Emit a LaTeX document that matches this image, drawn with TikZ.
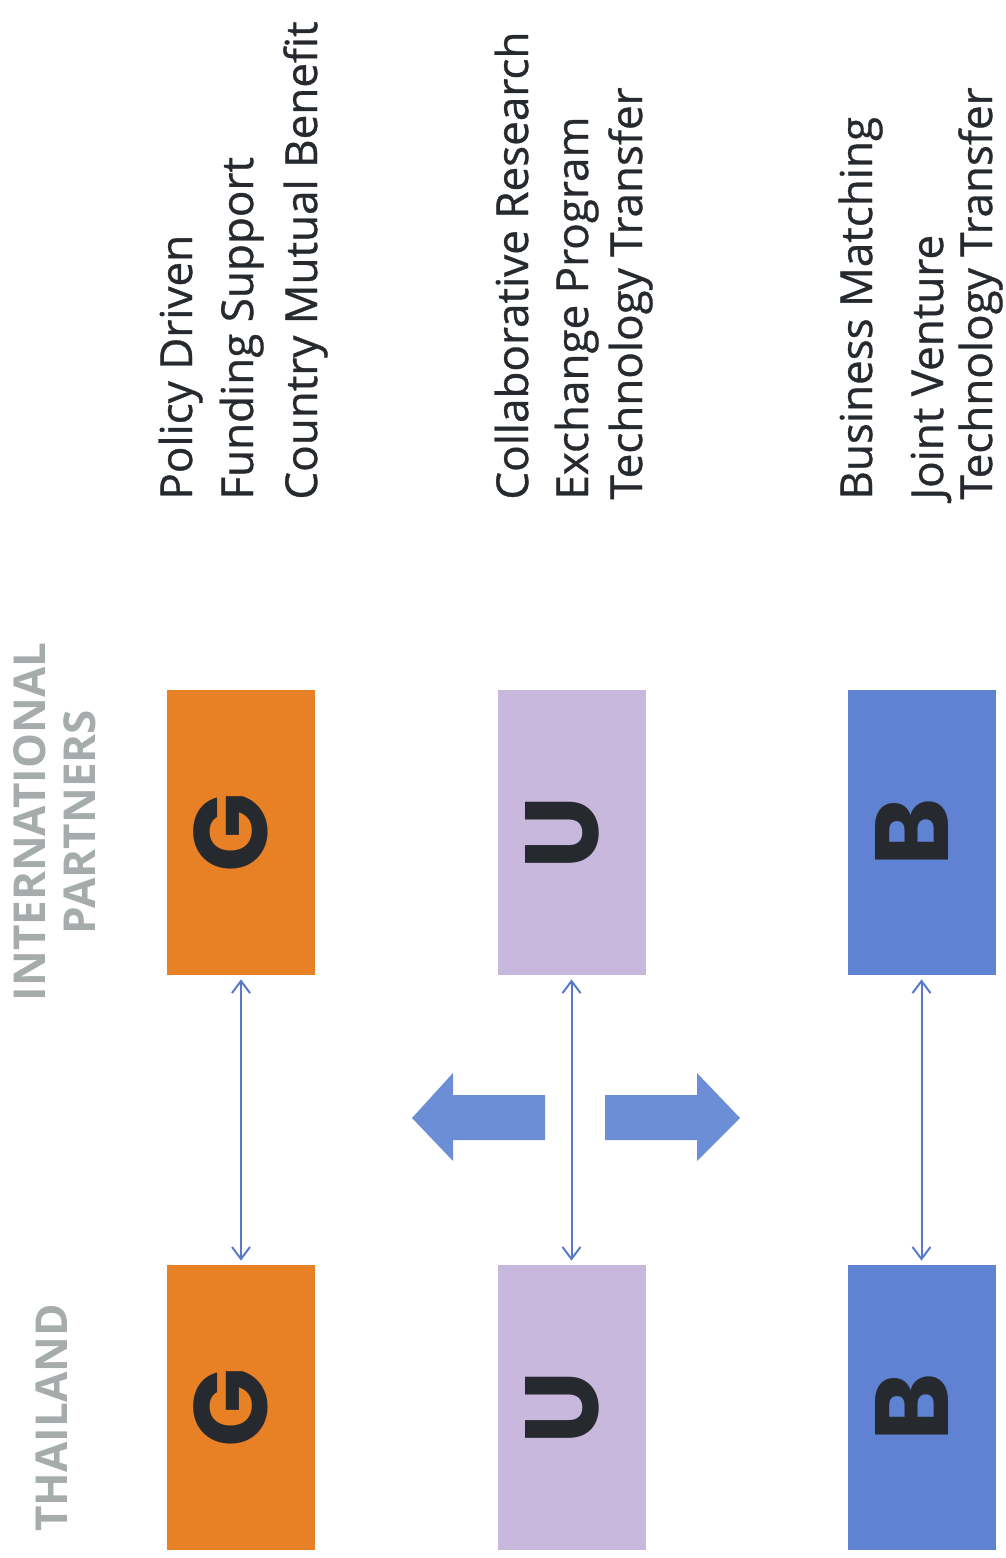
\documentclass[tikz,border=0pt]{standalone}
\usepackage{fontspec}
\setmainfont{Open Sans}
\newfontfamily\pointfont{Open Sans}[FakeBold=0.8]
\newfontfamily\letterfont{Poppins}
\usetikzlibrary{arrows.meta}
\definecolor{gorange}{RGB}{232,128,38}
\definecolor{ulilac}{RGB}{200,184,222}
\definecolor{bblue}{RGB}{96,130,210}
\definecolor{arrowblue}{RGB}{108,142,214}
\definecolor{linkblue}{RGB}{86,122,200}
\definecolor{headgray}{RGB}{166,171,172}
\definecolor{textdark}{RGB}{38,42,46}
\newcommand{\sideletter}[1]{\rotatebox{90}{\rule[-10pt]{0pt}{0pt}#1}}
\tikzset{
  sector/.style={minimum width=74pt, minimum height=142.5pt, inner sep=0pt,
    text=textdark, font=\letterfont\bfseries\fontsize{52}{52}\selectfont},
  gbox/.style={sector, fill=gorange},
  ubox/.style={sector, fill=ulilac},
  bbox/.style={sector, fill=bblue},
  link/.style={linkblue, line width=1pt,
    {Straight Barb[length=6pt,width=9pt]}-{Straight Barb[length=6pt,width=9pt]},
    shorten >=2pt, shorten <=2pt},
  point/.style={rotate=90, anchor=base west, inner sep=0pt, text=textdark,
    font=\pointfont\fontsize{22}{26}\selectfont},
  header/.style={rotate=90, align=center, inner sep=0pt, text=headgray,
    font=\bfseries\fontsize{22}{25}\selectfont}
}
\begin{document}
\begin{tikzpicture}[x=0.5pt,y=-0.5pt]
  \useasboundingbox (0,0) rectangle (1006,1558);
  % headers
  \node[header] (intl) at (55,822) {INTERNATIONAL\\PARTNERS};
  \node[header] (thai) at (52,1418) {THAILAND};
  % international partners row
  \node[gbox] (gi) at (241,832.5) {\sideletter{G}};
  \node[ubox] (ui) at (571.5,832.5) {\sideletter{U}};
  \node[bbox] (bi) at (921.5,832.5) {\sideletter{B}};
  % thailand row
  \node[gbox] (gt) at (241,1407.5) {\sideletter{G}};
  \node[ubox] (ut) at (571.5,1407.5) {\sideletter{U}};
  \node[bbox] (bt) at (921.5,1407.5) {\sideletter{B}};
  \draw[link] (gi.south) -- (gt.north);
  \draw[link] (ui.south) -- (ut.north);
  \draw[link] (bi.south) -- (bt.north);
  % block arrows
  \fill[arrowblue] (545,1095) -- (453,1095) -- (453,1073) -- (412,1118)
    -- (453,1161) -- (453,1140) -- (545,1140) -- cycle;
  \fill[arrowblue] (605,1095) -- (697,1095) -- (697,1073) -- (740,1118)
    -- (697,1161) -- (697,1140) -- (605,1140) -- cycle;
  % government
  \node[point] (g1) at (192,500) {Policy Driven};
  \node[point] (g2) at (253,500) {Funding Support};
  \node[point] (g3) at (317,500) {Country Mutual Benefit};
  % university
  \node[point] (u1) at (528,500) {Collaborative Research};
  \node[point] (u2) at (588,500) {Exchange Program};
  \node[point] (u3) at (642,500) {Technology Transfer};
  % business
  \node[point] (b1) at (872,500) {Business Matching};
  \node[point] (b2) at (943,500) {Joint Venture};
  \node[point] (b3) at (992,500) {Technology Transfer};
\end{tikzpicture}
\end{document}
